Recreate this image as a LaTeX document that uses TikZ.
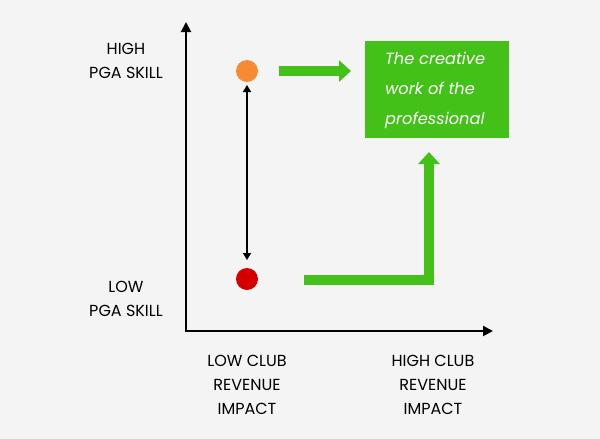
\documentclass[tikz,border=0pt]{standalone}
\usepackage{fontspec}
\setmainfont{Poppins}
\usetikzlibrary{arrows.meta}
\definecolor{bg}{HTML}{F4F4F4}
\definecolor{gr}{HTML}{43C118}
\definecolor{org}{HTML}{F68B33}
\definecolor{rd}{HTML}{D40000}
\tikzset{
  lbl/.style={font=\fontsize{16}{24}\selectfont, align=center, text=black, inner sep=0pt},
  axis/.style={line width=2pt, -{Triangle[length=10pt,width=10pt]}},
  dot/.style={circle, minimum size=22pt, inner sep=0pt},
  garrow/.style={gr, line width=10pt, -{Triangle[length=12pt,width=21pt]}, miter limit=10},
}
\begin{document}
\begin{tikzpicture}[x=1pt,y=-1pt]
\fill[bg] (0,0) rectangle (600,439);
\useasboundingbox (0,0) rectangle (600,439);
\coordinate (o) at (186,331);
\coordinate (ytip) at (186,22);
\coordinate (xtip) at (493,331);
\draw[axis] (186,332) -- (ytip);
\draw[axis] (185,331) -- (xtip);
\node[dot, fill=org] (hi) at (247,71) {};
\node[dot, fill=rd] (lo) at (247,279) {};
\draw[line width=1.5pt, {Triangle[length=7pt,width=8pt]}-{Triangle[length=7pt,width=8pt]}] (247,85) coordinate (dtop) -- (247,260) coordinate (dbot);
\node[fill=gr, minimum width=144pt, minimum height=97pt, inner sep=0pt] (box) at (437,89.5) {};
\node[font=\fontsize{16.2}{30}\selectfont\itshape, text=white, align=left, anchor=north west, inner sep=0pt] (boxtext) at (385,52) {The creative\\work of the\\professional};
\coordinate (a1s) at (279,71);
\coordinate (a1e) at (351,71);
\draw[garrow] (a1s) -- (a1e);
\coordinate (a2s) at (304,280);
\coordinate (a2c) at (429,280);
\coordinate (a2e) at (429,152);
\draw[garrow] (a2s) -- (a2c) -- (a2e);
\node[lbl] (hiL) at (126,61) {HIGH\\PGA SKILL};
\node[lbl] (loL) at (126,299) {LOW\\PGA SKILL};
\node[lbl] (lowclub) at (247,385) {LOW CLUB\\REVENUE\\IMPACT};
\node[lbl] (highclub) at (433,385) {HIGH CLUB\\REVENUE\\IMPACT};
\end{tikzpicture}
\end{document}
